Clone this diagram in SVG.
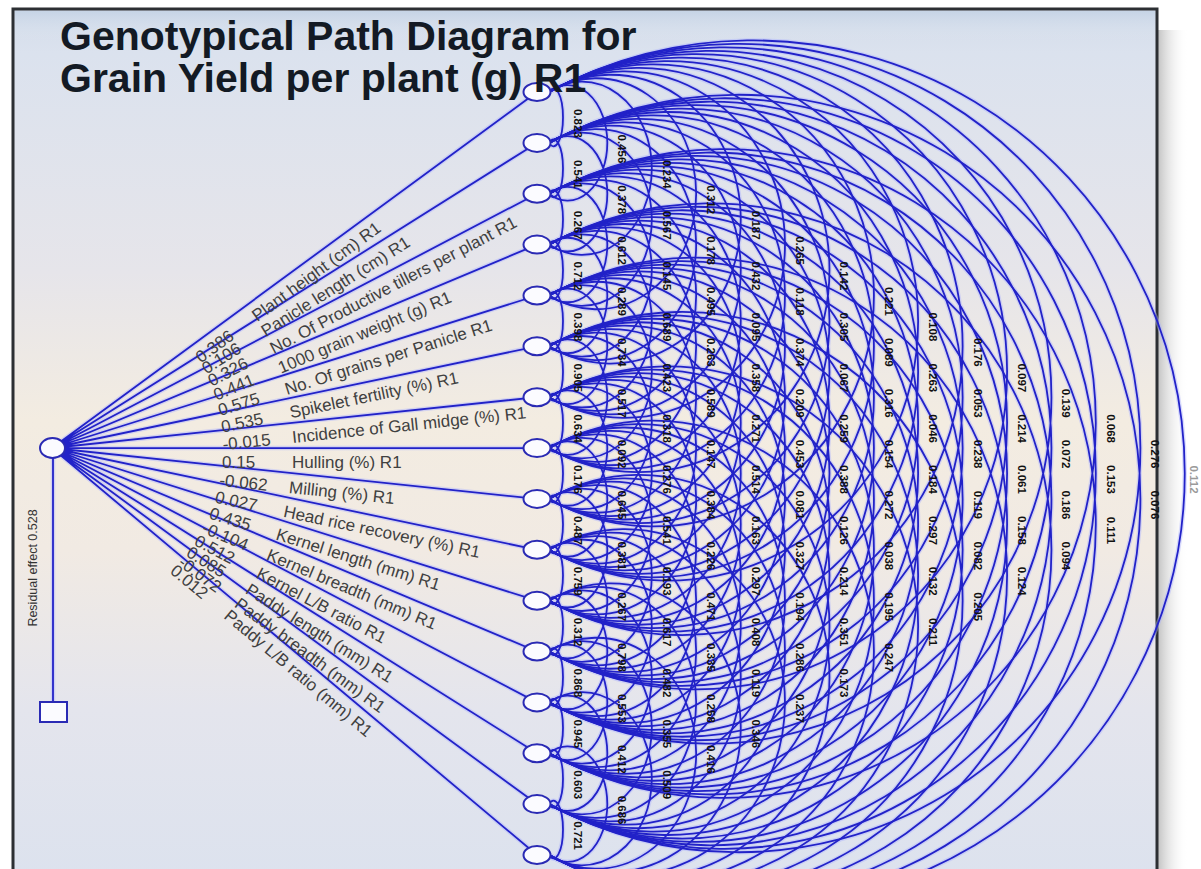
<svg xmlns="http://www.w3.org/2000/svg" width="1201" height="869" viewBox="0 0 1201 869">
<defs>
<linearGradient id="bg" x1="0" y1="0" x2="0" y2="1">
<stop offset="0" stop-color="#d3dcea"/>
<stop offset="0.05" stop-color="#dbe2ee"/>
<stop offset="0.3" stop-color="#e6e5ea"/>
<stop offset="0.47" stop-color="#f3ece1"/>
<stop offset="0.62" stop-color="#f1eae3"/>
<stop offset="0.8" stop-color="#e4e5ed"/>
<stop offset="1" stop-color="#dce2ee"/>
</linearGradient>
<linearGradient id="shadow" x1="0" y1="0" x2="1" y2="0">
<stop offset="0" stop-color="#c4c4c4"/>
<stop offset="1" stop-color="#ffffff" stop-opacity="0"/>
</linearGradient>
<linearGradient id="gloss" x1="0" y1="0" x2="0" y2="1">
<stop offset="0" stop-color="#c6d4e6"/>
<stop offset="1" stop-color="#dfe6f0" stop-opacity="0"/>
</linearGradient>
<style>
.edges{fill:none;stroke:#2222c8;stroke-width:1.8}
.halo{stroke:#aeb4ff;stroke-width:4.5;opacity:0.45}
.node{fill:#fbfbff;stroke:#2a2ab4;stroke-width:2}
.lbl{font-family:"Liberation Sans",Arial,sans-serif;font-size:17px;fill:#404040}
.num{font-family:"Liberation Sans",Arial,sans-serif;font-size:11.5px;font-weight:bold;fill:#111;text-anchor:middle}
.title{font-family:"Liberation Sans",Arial,sans-serif;font-size:41px;font-weight:bold;fill:#131a24}
.res{font-family:"Liberation Sans",Arial,sans-serif;font-size:12.5px;fill:#333;text-anchor:middle}
</style>
</defs>
<rect width="1201" height="869" fill="#ffffff"/>
<rect x="1158" y="30" width="30" height="839" fill="url(#shadow)"/>
<rect x="13" y="9" width="1144" height="875" fill="url(#bg)" stroke="#2c2f33" stroke-width="3"/>
<rect x="15" y="11" width="1140" height="30" fill="url(#gloss)"/>

<g id="connectors" class="edges">
<use href="#edgeset" class="halo"/>
<g id="edgeset">
<path d="M52 448L537 92M52 448L537 142.9M52 448L537 193.7M52 448L537 244.6M52 448L537 295.5M52 448L537 346.3M52 448L537 397.2M52 448L537 448.1M52 448L537 498.9M52 448L537 549.8M52 448L537 600.7M52 448L537 651.5M52 448L537 702.4M52 448L537 753.3M52 448L537 804.1M52 448L537 855"/>
<path d="M53 458V702"/>
<path d="M549 92a9.5 28.9 0 1 1 0 50.9M549 142.9a9.5 28.9 0 1 1 0 50.9M549 193.7a9.5 28.9 0 1 1 0 50.9M549 244.6a9.5 28.9 0 1 1 0 50.9M549 295.5a9.5 28.9 0 1 1 0 50.9M549 346.3a9.5 28.9 0 1 1 0 50.9M549 397.2a9.5 28.9 0 1 1 0 50.9M549 448.1a9.5 28.9 0 1 1 0 50.9M549 498.9a9.5 28.9 0 1 1 0 50.9M549 549.8a9.5 28.9 0 1 1 0 50.9M549 600.7a9.5 28.9 0 1 1 0 50.9M549 651.5a9.5 28.9 0 1 1 0 50.9M549 702.4a9.5 28.9 0 1 1 0 50.9M549 753.3a9.5 28.9 0 1 1 0 50.9M549 804.1a9.5 28.9 0 1 1 0 50.9"/>
<path d="M549 92a39.6 57.7 0 1 1 0 101.7M549 142.9a39.6 57.7 0 1 1 0 101.7M549 193.7a39.6 57.7 0 1 1 0 101.7M549 244.6a39.6 57.7 0 1 1 0 101.7M549 295.5a39.6 57.7 0 1 1 0 101.7M549 346.3a39.6 57.7 0 1 1 0 101.7M549 397.2a39.6 57.7 0 1 1 0 101.7M549 448.1a39.6 57.7 0 1 1 0 101.7M549 498.9a39.6 57.7 0 1 1 0 101.7M549 549.8a39.6 57.7 0 1 1 0 101.7M549 600.7a39.6 57.7 0 1 1 0 101.7M549 651.5a39.6 57.7 0 1 1 0 101.7M549 702.4a39.6 57.7 0 1 1 0 101.7M549 753.3a39.6 57.7 0 1 1 0 101.7"/>
<path d="M549 92a69.8 86.6 0 1 1 0 152.6M549 142.9a69.8 86.6 0 1 1 0 152.6M549 193.7a69.8 86.6 0 1 1 0 152.6M549 244.6a69.8 86.6 0 1 1 0 152.6M549 295.5a69.8 86.6 0 1 1 0 152.6M549 346.3a69.8 86.6 0 1 1 0 152.6M549 397.2a69.8 86.6 0 1 1 0 152.6M549 448.1a69.8 86.6 0 1 1 0 152.6M549 498.9a69.8 86.6 0 1 1 0 152.6M549 549.8a69.8 86.6 0 1 1 0 152.6M549 600.7a69.8 86.6 0 1 1 0 152.6M549 651.5a69.8 86.6 0 1 1 0 152.6M549 702.4a69.8 86.6 0 1 1 0 152.6"/>
<path d="M549 92a99.9 115.5 0 1 1 0 203.5M549 142.9a99.9 115.5 0 1 1 0 203.5M549 193.7a99.9 115.5 0 1 1 0 203.5M549 244.6a99.9 115.5 0 1 1 0 203.5M549 295.5a99.9 115.5 0 1 1 0 203.5M549 346.3a99.9 115.5 0 1 1 0 203.5M549 397.2a99.9 115.5 0 1 1 0 203.5M549 448.1a99.9 115.5 0 1 1 0 203.5M549 498.9a99.9 115.5 0 1 1 0 203.5M549 549.8a99.9 115.5 0 1 1 0 203.5M549 600.7a99.9 115.5 0 1 1 0 203.5M549 651.5a99.9 115.5 0 1 1 0 203.5"/>
<path d="M549 92a130.1 144.4 0 1 1 0 254.3M549 142.9a130.1 144.4 0 1 1 0 254.3M549 193.7a130.1 144.4 0 1 1 0 254.3M549 244.6a130.1 144.4 0 1 1 0 254.3M549 295.5a130.1 144.4 0 1 1 0 254.3M549 346.3a130.1 144.4 0 1 1 0 254.3M549 397.2a130.1 144.4 0 1 1 0 254.3M549 448.1a130.1 144.4 0 1 1 0 254.3M549 498.9a130.1 144.4 0 1 1 0 254.3M549 549.8a130.1 144.4 0 1 1 0 254.3M549 600.7a130.1 144.4 0 1 1 0 254.3"/>
<path d="M549 92a160.2 173.2 0 1 1 0 305.2M549 142.9a160.2 173.2 0 1 1 0 305.2M549 193.7a160.2 173.2 0 1 1 0 305.2M549 244.6a160.2 173.2 0 1 1 0 305.2M549 295.5a160.2 173.2 0 1 1 0 305.2M549 346.3a160.2 173.2 0 1 1 0 305.2M549 397.2a160.2 173.2 0 1 1 0 305.2M549 448.1a160.2 173.2 0 1 1 0 305.2M549 498.9a160.2 173.2 0 1 1 0 305.2M549 549.8a160.2 173.2 0 1 1 0 305.2"/>
<path d="M549 92a190.4 202.1 0 1 1 0 356.1M549 142.9a190.4 202.1 0 1 1 0 356.1M549 193.7a190.4 202.1 0 1 1 0 356.1M549 244.6a190.4 202.1 0 1 1 0 356.1M549 295.5a190.4 202.1 0 1 1 0 356.1M549 346.3a190.4 202.1 0 1 1 0 356.1M549 397.2a190.4 202.1 0 1 1 0 356.1M549 448.1a190.4 202.1 0 1 1 0 356.1M549 498.9a190.4 202.1 0 1 1 0 356.1"/>
<path d="M549 92a220.5 231 0 1 1 0 406.9M549 142.9a220.5 231 0 1 1 0 406.9M549 193.7a220.5 231 0 1 1 0 406.9M549 244.6a220.5 231 0 1 1 0 406.9M549 295.5a220.5 231 0 1 1 0 406.9M549 346.3a220.5 231 0 1 1 0 406.9M549 397.2a220.5 231 0 1 1 0 406.9M549 448.1a220.5 231 0 1 1 0 406.9"/>
<path d="M549 92a250.6 259.8 0 1 1 0 457.8M549 142.9a250.6 259.8 0 1 1 0 457.8M549 193.7a250.6 259.8 0 1 1 0 457.8M549 244.6a250.6 259.8 0 1 1 0 457.8M549 295.5a250.6 259.8 0 1 1 0 457.8M549 346.3a250.6 259.8 0 1 1 0 457.8M549 397.2a250.6 259.8 0 1 1 0 457.8"/>
<path d="M549 92a280.8 288.7 0 1 1 0 508.7M549 142.9a280.8 288.7 0 1 1 0 508.7M549 193.7a280.8 288.7 0 1 1 0 508.7M549 244.6a280.8 288.7 0 1 1 0 508.7M549 295.5a280.8 288.7 0 1 1 0 508.7M549 346.3a280.8 288.7 0 1 1 0 508.7"/>
<path d="M549 92a310.9 317.6 0 1 1 0 559.5M549 142.9a310.9 317.6 0 1 1 0 559.5M549 193.7a310.9 317.6 0 1 1 0 559.5M549 244.6a310.9 317.6 0 1 1 0 559.5M549 295.5a310.9 317.6 0 1 1 0 559.5"/>
<path d="M549 92a341.1 346.4 0 1 1 0 610.4M549 142.9a341.1 346.4 0 1 1 0 610.4M549 193.7a341.1 346.4 0 1 1 0 610.4M549 244.6a341.1 346.4 0 1 1 0 610.4"/>
<path d="M549 92a371.2 375.3 0 1 1 0 661.3M549 142.9a371.2 375.3 0 1 1 0 661.3M549 193.7a371.2 375.3 0 1 1 0 661.3"/>
<path d="M549 92a401.4 404.2 0 1 1 0 712.1M549 142.9a401.4 404.2 0 1 1 0 712.1"/>
<path d="M549 92a431.5 433.1 0 1 1 0 763"/>
</g>
</g>

<g id="path-labels">
<g class="lbl" transform="translate(52 448) rotate(-36.28)"><text x="170" y="20">0.386</text><text x="240" y="20">Plant height (cm) R1</text></g>
<g class="lbl" transform="translate(52 448) rotate(-32.17)"><text x="170" y="20">0.106</text><text x="240" y="20">Panicle length (cm) R1</text></g>
<g class="lbl" transform="translate(52 448) rotate(-27.67)"><text x="170" y="20">0.326</text><text x="240" y="20">No. Of Productive tillers per plant R1</text></g>
<g class="lbl" transform="translate(52 448) rotate(-22.75)"><text x="170" y="20">0.441</text><text x="240" y="20">1000 grain weight (g) R1</text></g>
<g class="lbl" transform="translate(52 448) rotate(-17.45)"><text x="170" y="20">0.575</text><text x="240" y="20">No. Of grains per Panicle R1</text></g>
<g class="lbl" transform="translate(52 448) rotate(-11.84)"><text x="170" y="20">0.535</text><text x="240" y="20">Spikelet fertility (%) R1</text></g>
<g class="lbl" transform="translate(52 448) rotate(-5.98)"><text x="170" y="20">-0.015</text><text x="240" y="20">Incidence of Gall midge (%) R1</text></g>
<g class="lbl" transform="translate(52 448)"><text x="170" y="20">0.15</text><text x="240" y="20">Hulling (%) R1</text></g>
<g class="lbl" transform="translate(52 448) rotate(5.99)"><text x="170" y="20">-0.062</text><text x="240" y="20">Milling (%) R1</text></g>
<g class="lbl" transform="translate(52 448) rotate(11.85)"><text x="170" y="20">0.027</text><text x="240" y="20">Head rice recovery (%) R1</text></g>
<g class="lbl" transform="translate(52 448) rotate(17.48)"><text x="170" y="20">0.435</text><text x="240" y="20">Kernel length (mm) R1</text></g>
<g class="lbl" transform="translate(52 448) rotate(22.76)"><text x="170" y="20">-0.104</text><text x="240" y="20">Kernel breadth (mm) R1</text></g>
<g class="lbl" transform="translate(52 448) rotate(27.68)"><text x="170" y="20">0.512</text><text x="240" y="20">Kernel L/B ratio R1</text></g>
<g class="lbl" transform="translate(52 448) rotate(32.19)"><text x="170" y="20">0.085</text><text x="240" y="20">Paddy length (mm) R1</text></g>
<g class="lbl" transform="translate(52 448) rotate(36.29)"><text x="170" y="20">-0.072</text><text x="240" y="20">Paddy breadth (mm) R1</text></g>
<g class="lbl" transform="translate(52 448) rotate(40)"><text x="170" y="20">0.012</text><text x="240" y="20">Paddy L/B ratio (mm) R1</text></g>
<text class="res" transform="translate(33 568) rotate(-90)" y="4">Residual effect  0.528</text>
</g>

<g id="arc-labels" class="num">
<g transform="translate(578 6) rotate(90)"><text x="117.4" y="4">0.823</text><text x="168.3" y="4">0.541</text><text x="219.2" y="4">0.267</text><text x="270" y="4">0.712</text><text x="320.9" y="4">0.398</text><text x="371.8" y="4">0.905</text><text x="422.6" y="4">0.634</text><text x="473.5" y="4">0.176</text><text x="524.4" y="4">0.487</text><text x="575.2" y="4">0.759</text><text x="626.1" y="4">0.312</text><text x="677" y="4">0.868</text><text x="727.8" y="4">0.945</text><text x="778.7" y="4">0.603</text><text x="829.6" y="4">0.721</text></g>
<g transform="translate(622.4 6) rotate(90)"><text x="142.9" y="4">0.456</text><text x="193.7" y="4">0.378</text><text x="244.6" y="4">0.612</text><text x="295.5" y="4">0.289</text><text x="346.3" y="4">0.734</text><text x="397.2" y="4">0.517</text><text x="448.1" y="4">0.092</text><text x="498.9" y="4">0.645</text><text x="549.8" y="4">0.381</text><text x="600.7" y="4">0.267</text><text x="651.5" y="4">0.798</text><text x="702.4" y="4">0.553</text><text x="753.3" y="4">0.412</text><text x="804.1" y="4">0.686</text></g>
<g transform="translate(666.8 6) rotate(90)"><text x="168.3" y="4">0.234</text><text x="219.2" y="4">0.567</text><text x="270" y="4">0.145</text><text x="320.9" y="4">0.689</text><text x="371.8" y="4">0.423</text><text x="422.6" y="4">0.318</text><text x="473.5" y="4">0.276</text><text x="524.4" y="4">0.541</text><text x="575.2" y="4">0.193</text><text x="626.1" y="4">0.617</text><text x="677" y="4">0.482</text><text x="727.8" y="4">0.355</text><text x="778.7" y="4">0.509</text></g>
<g transform="translate(711.2 6) rotate(90)"><text x="193.7" y="4">0.312</text><text x="244.6" y="4">0.178</text><text x="295.5" y="4">0.495</text><text x="346.3" y="4">0.263</text><text x="397.2" y="4">0.589</text><text x="448.1" y="4">0.147</text><text x="498.9" y="4">0.384</text><text x="549.8" y="4">0.226</text><text x="600.7" y="4">0.471</text><text x="651.5" y="4">0.335</text><text x="702.4" y="4">0.258</text><text x="753.3" y="4">0.416</text></g>
<g transform="translate(755.6 6) rotate(90)"><text x="219.2" y="4">0.187</text><text x="270" y="4">0.432</text><text x="320.9" y="4">0.095</text><text x="371.8" y="4">0.358</text><text x="422.6" y="4">0.271</text><text x="473.5" y="4">0.514</text><text x="524.4" y="4">0.163</text><text x="575.2" y="4">0.297</text><text x="626.1" y="4">0.408</text><text x="677" y="4">0.119</text><text x="727.8" y="4">0.346</text></g>
<g transform="translate(800 6) rotate(90)"><text x="244.6" y="4">0.265</text><text x="295.5" y="4">0.118</text><text x="346.3" y="4">0.374</text><text x="397.2" y="4">0.209</text><text x="448.1" y="4">0.453</text><text x="498.9" y="4">0.081</text><text x="549.8" y="4">0.327</text><text x="600.7" y="4">0.194</text><text x="651.5" y="4">0.286</text><text x="702.4" y="4">0.237</text></g>
<g transform="translate(844.4 6) rotate(90)"><text x="270" y="4">0.142</text><text x="320.9" y="4">0.305</text><text x="371.8" y="4">0.067</text><text x="422.6" y="4">0.259</text><text x="473.5" y="4">0.388</text><text x="524.4" y="4">0.126</text><text x="575.2" y="4">0.214</text><text x="626.1" y="4">0.351</text><text x="677" y="4">0.173</text></g>
<g transform="translate(888.8 6) rotate(90)"><text x="295.5" y="4">0.221</text><text x="346.3" y="4">0.089</text><text x="397.2" y="4">0.316</text><text x="448.1" y="4">0.154</text><text x="498.9" y="4">0.272</text><text x="549.8" y="4">0.038</text><text x="600.7" y="4">0.195</text><text x="651.5" y="4">0.247</text></g>
<g transform="translate(933.2 6) rotate(90)"><text x="320.9" y="4">0.108</text><text x="371.8" y="4">0.263</text><text x="422.6" y="4">0.046</text><text x="473.5" y="4">0.184</text><text x="524.4" y="4">0.297</text><text x="575.2" y="4">0.132</text><text x="626.1" y="4">0.211</text></g>
<g transform="translate(977.6 6) rotate(90)"><text x="346.3" y="4">0.176</text><text x="397.2" y="4">0.053</text><text x="448.1" y="4">0.238</text><text x="498.9" y="4">0.119</text><text x="549.8" y="4">0.082</text><text x="600.7" y="4">0.205</text></g>
<g transform="translate(1022 6) rotate(90)"><text x="371.8" y="4">0.097</text><text x="422.6" y="4">0.214</text><text x="473.5" y="4">0.061</text><text x="524.4" y="4">0.158</text><text x="575.2" y="4">0.124</text></g>
<g transform="translate(1066.4 6) rotate(90)"><text x="397.2" y="4">0.139</text><text x="448.1" y="4">0.072</text><text x="498.9" y="4">0.186</text><text x="549.8" y="4">0.094</text></g>
<g transform="translate(1110.8 6) rotate(90)"><text x="422.6" y="4">0.068</text><text x="473.5" y="4">0.153</text><text x="524.4" y="4">0.111</text></g>
<g transform="translate(1155.2 6) rotate(90)"><text x="448.1" y="4">0.276</text><text x="498.9" y="4">0.076</text></g>
<g transform="translate(1194 6) rotate(90)" fill="#9a9a9a"><text x="473.5" y="4">0.112</text></g>
</g>

<g id="yield"><ellipse class="node" cx="52.5" cy="448" rx="12.5" ry="10" fill="#eef5ff"/></g>
<g id="residual"><rect class="node" x="40" y="702" width="27" height="20"/></g>
<g id="n0"><ellipse class="node" cx="537" cy="92" rx="13.5" ry="9"/></g>
<g id="n1"><ellipse class="node" cx="537" cy="142.9" rx="13.5" ry="9"/></g>
<g id="n2"><ellipse class="node" cx="537" cy="193.7" rx="13.5" ry="9"/></g>
<g id="n3"><ellipse class="node" cx="537" cy="244.6" rx="13.5" ry="9"/></g>
<g id="n4"><ellipse class="node" cx="537" cy="295.5" rx="13.5" ry="9"/></g>
<g id="n5"><ellipse class="node" cx="537" cy="346.3" rx="13.5" ry="9"/></g>
<g id="n6"><ellipse class="node" cx="537" cy="397.2" rx="13.5" ry="9"/></g>
<g id="n7"><ellipse class="node" cx="537" cy="448.1" rx="13.5" ry="9"/></g>
<g id="n8"><ellipse class="node" cx="537" cy="498.9" rx="13.5" ry="9"/></g>
<g id="n9"><ellipse class="node" cx="537" cy="549.8" rx="13.5" ry="9"/></g>
<g id="n10"><ellipse class="node" cx="537" cy="600.7" rx="13.5" ry="9"/></g>
<g id="n11"><ellipse class="node" cx="537" cy="651.5" rx="13.5" ry="9"/></g>
<g id="n12"><ellipse class="node" cx="537" cy="702.4" rx="13.5" ry="9"/></g>
<g id="n13"><ellipse class="node" cx="537" cy="753.3" rx="13.5" ry="9"/></g>
<g id="n14"><ellipse class="node" cx="537" cy="804.1" rx="13.5" ry="9"/></g>
<g id="n15"><ellipse class="node" cx="537" cy="855" rx="13.5" ry="9"/></g>

<g id="title" class="title">
<text x="60" y="50">Genotypical Path Diagram for</text>
<text x="60" y="92">Grain Yield per plant (g) R1</text>
</g>
</svg>
